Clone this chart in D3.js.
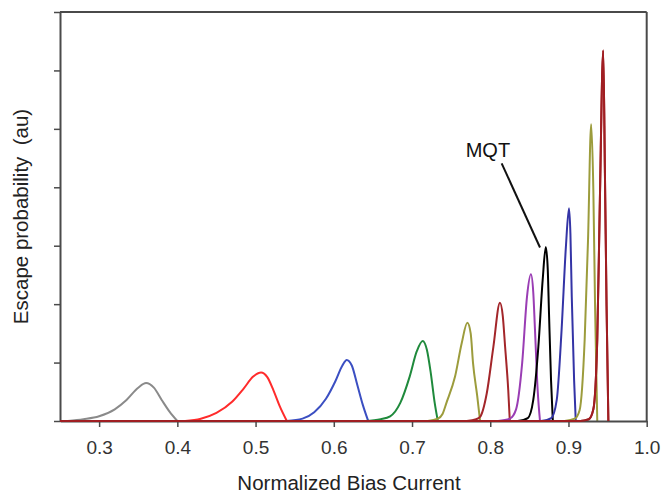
<!DOCTYPE html>
<html><head><meta charset="utf-8">
<script src="https://cdn.jsdelivr.net/npm/d3@7"></script>
<style>
html,body{margin:0;padding:0;background:#fff;}
svg{display:block;font-family:"Liberation Sans",Arial,sans-serif;}
</style></head>
<body><svg id="c" width="661" height="494"></svg>
<script>
// ---- data: [bias current, escape probability (au)] ----
const gray   = [[0.26,0],[0.28,0.03],[0.30,0.08],[0.32,0.20],[0.335,0.36],[0.35,0.57],[0.36,0.65],[0.37,0.57],[0.38,0.36],[0.39,0.16],[0.40,0]];
const red    = [[0.41,0],[0.43,0.04],[0.45,0.14],[0.47,0.33],[0.485,0.56],[0.497,0.76],[0.507,0.83],[0.515,0.75],[0.523,0.52],[0.531,0.25],[0.540,0]];
const blue   = [[0.54,0],[0.56,0.04],[0.575,0.15],[0.59,0.38],[0.602,0.68],[0.611,0.95],[0.6165,1.044],[0.623,0.95],[0.63,0.62],[0.637,0.28],[0.644,0]];
const green  = [[0.64,0],[0.66,0.03],[0.672,0.08],[0.685,0.31],[0.697,0.76],[0.706,1.19],[0.7136,1.37],[0.719,1.22],[0.724,0.82],[0.729,0.31],[0.733,0]];
const olive  = [[0.72,0],[0.733,0.04],[0.739,0.12],[0.744,0.31],[0.755,0.76],[0.7635,1.33],[0.7707,1.68],[0.775,1.5],[0.778,0.99],[0.7834,0.42],[0.787,0]];
const maroon = [[0.77,0],[0.782,0.03],[0.787,0.07],[0.7955,0.47],[0.804,1.27],[0.8124,2.025],[0.816,1.8],[0.819,1.27],[0.823,0.53],[0.825,0]];
const purple = [[0.81,0],[0.825,0.04],[0.833,0.2],[0.8408,0.99],[0.847,2.13],[0.852,2.51],[0.855,2.2],[0.8572,1.56],[0.8606,0.53],[0.8636,0]];
const mqt    = [[0.835,0],[0.848,0.05],[0.855,0.36],[0.8615,1.27],[0.867,2.41],[0.871,2.98],[0.8735,2.6],[0.8751,1.85],[0.8777,0.70],[0.880,0]];
const navy   = [[0.865,0],[0.878,0.05],[0.885,0.36],[0.8912,1.56],[0.8967,2.98],[0.9007,3.64],[0.9025,3.2],[0.9042,2.13],[0.9072,0.70],[0.9093,0]];
const olive2 = [[0.895,0],[0.908,0.04],[0.9143,0.19],[0.9207,1.39],[0.925,3.10],[0.929,5.08],[0.9318,3.95],[0.934,1.96],[0.9368,0]];
const red2   = [[0.25,0],[0.915,0],[0.926,0.03],[0.9318,0.2],[0.9368,1.39],[0.940,3.67],[0.9444,6.34],[0.9466,4.24],[0.9487,1.96],[0.951,0]];

const seriesList = [gray, red, blue, green, olive, maroon, purple, mqt, navy, olive2, red2];
const seriesColors = ["#8a8a8a","#ff2b2b","#3b4fc2","#1f8a3c","#9c9c3c","#a3262a","#9a3db4","#000000","#3434a6","#9c9c3c","#a01e22"];

const xTicks = [0.3,0.4,0.5,0.6,0.7,0.8,0.9,1.0];
const yTicks = [0,1,2,3,4,5,6,7];
const xTitle = "Normalized Bias Current";
const yTitle = "Escape probability\u00a0 (au)";
const annotLabel = "MQT";
const annotText = [0.797, 4.52];               // label anchor (data units)
const annotLine = [[0.8146,4.41],[0.8636,2.97]]; // pointer (data units)

// ---- layout ----
const L = 60, R = 646.7, T = 12, B = 421;
const svg = d3.select("#c");
const x = d3.scaleLinear().domain([0.25, 1.0]).range([L, R]);
const y = d3.scaleLinear().domain([0, 7]).range([B, T]);

// curves
const line = d3.line().x(d => x(d[0])).y(d => y(d[1])).curve(d3.curveMonotoneX);
svg.append("g").selectAll("path").data(seriesList).join("path")
  .attr("d", line).attr("fill","none")
  .attr("stroke", (d,i) => seriesColors[i])
  .attr("stroke-width", 2).attr("stroke-linejoin","round");

// frame
const axisColor = "#4a4a4a";
svg.append("line").attr("x1",L).attr("x2",R).attr("y1",T).attr("y2",T).attr("stroke",axisColor).attr("stroke-width",2);
svg.append("line").attr("x1",R).attr("x2",R).attr("y1",T).attr("y2",B).attr("stroke",axisColor).attr("stroke-width",2);

const xa = svg.append("g").attr("transform",`translate(0,${B})`)
  .call(d3.axisBottom(x).tickValues(xTicks).tickFormat(d3.format(".1f")).tickSize(6).tickSizeOuter(0));
const ya = svg.append("g").attr("transform",`translate(${L},0)`)
  .call(d3.axisLeft(y).tickValues(yTicks).tickFormat("").tickSize(6).tickSizeOuter(0));
[xa, ya].forEach(g => {
  g.select(".domain").attr("stroke",axisColor).attr("stroke-width",2);
  g.selectAll(".tick line").attr("stroke",axisColor).attr("stroke-width",1.5);
});
// keep baseline curve visible over the bottom axis
svg.append("path").datum(red2).attr("d", line).attr("fill","none")
  .attr("stroke", seriesColors[10]).attr("stroke-width", 2);

xa.selectAll(".tick text").attr("fill","#333").attr("font-size",19)
  .attr("font-family","Liberation Sans, Arial, sans-serif").attr("y",0).attr("dy",33);

// titles
svg.append("text").attr("x",349).attr("y",490).attr("text-anchor","middle")
  .attr("font-size",20.5).attr("fill","#222").text(xTitle);
svg.append("text").attr("transform",`translate(28,${(T+B)/2}) rotate(-90)`)
  .attr("text-anchor","middle").attr("font-size",20.5).attr("fill","#222").text(yTitle);

// annotation
svg.append("text").attr("x",x(annotText[0])).attr("y",y(annotText[1])).attr("text-anchor","middle")
  .attr("font-size",20).attr("fill","#111").text(annotLabel);
svg.append("line").attr("x1",x(annotLine[0][0])).attr("y1",y(annotLine[0][1]))
  .attr("x2",x(annotLine[1][0])).attr("y2",y(annotLine[1][1]))
  .attr("stroke","#111").attr("stroke-width",2);
</script></body></html>
